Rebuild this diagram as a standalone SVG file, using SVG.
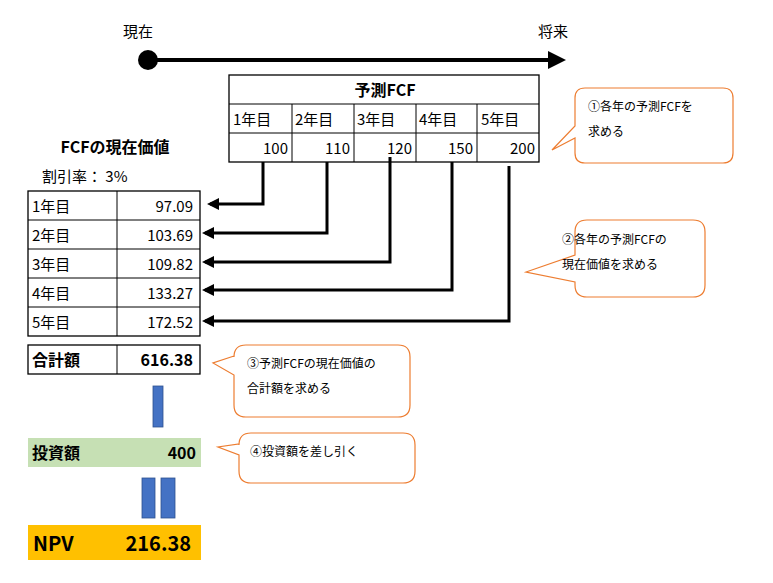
<svg xmlns="http://www.w3.org/2000/svg" width="773" height="583" viewBox="0 0 773 583">
<style>
text{font-family:"Noto Sans CJK JP","Liberation Sans",sans-serif;fill:#000}
.c{fill:#fff;stroke:#000;stroke-width:1.3}
.t{font-size:15px}
.b{font-size:16px;font-weight:bold}
.s{font-size:12px}
.co{fill:#fff;stroke:#ed7d31;stroke-width:1.2}
.ar{fill:none;stroke:#000;stroke-width:3;marker-end:url(#ah)}
</style>
<defs><marker id="ah" markerWidth="4" markerHeight="4" refX="3" refY="2" orient="auto"><path d="M0,0L4,2L0,4z" fill="#000"/></marker></defs>
<g id="timeline">
<text x="138" y="37" class="t" text-anchor="middle">現在</text>
<text x="553" y="37" class="t" text-anchor="middle">将来</text>
<line x1="148" y1="60" x2="552" y2="60" stroke="#000" stroke-width="4"/>
<path d="M548,51L566,60L548,69z"/>
<circle cx="148" cy="60" r="10"/>
</g>
<g id="fcf-table">
<rect class="c" x="229" y="75" width="310" height="87"/>
<line x1="229" y1="104" x2="539" y2="104" stroke="#000"/>
<line x1="229" y1="133" x2="539" y2="133" stroke="#000"/>
<g stroke="#000"><line x1="292" y1="104" x2="292" y2="162"/><line x1="354" y1="104" x2="354" y2="162"/><line x1="416" y1="104" x2="416" y2="162"/><line x1="477" y1="104" x2="477" y2="162"/></g>
<text x="385" y="96" class="b" text-anchor="middle">予測FCF</text>
<g class="t" fill="#000"><text x="233" y="125">1年目</text><text x="295" y="125">2年目</text><text x="357" y="125">3年目</text><text x="419" y="125">4年目</text><text x="481" y="125">5年目</text></g>
<g class="t" text-anchor="end"><text x="288" y="154">100</text><text x="350" y="154">110</text><text x="412" y="154">120</text><text x="473" y="154">150</text><text x="535" y="154">200</text></g>
</g>
<g id="pv-table">
<text x="115" y="153" class="b" text-anchor="middle">FCFの現在価値</text>
<text x="42" y="182" class="t" fill="#333">割引率： 3%</text>
<rect class="c" x="28" y="191" width="172" height="145"/>
<g stroke="#000"><line x1="28" y1="220" x2="200" y2="220"/><line x1="28" y1="249" x2="200" y2="249"/><line x1="28" y1="278" x2="200" y2="278"/><line x1="28" y1="307" x2="200" y2="307"/><line x1="117" y1="191" x2="117" y2="336"/></g>
<g class="t"><text x="32" y="212">1年目</text><text x="32" y="241">2年目</text><text x="32" y="270">3年目</text><text x="32" y="299">4年目</text><text x="32" y="328">5年目</text></g>
<g class="t" text-anchor="end"><text x="193" y="212">97.09</text><text x="193" y="241">103.69</text><text x="193" y="270">109.82</text><text x="193" y="299">133.27</text><text x="193" y="328">172.52</text></g>
</g>
<g id="total">
<rect class="c" x="28" y="345" width="172" height="29"/>
<line x1="117" y1="345" x2="117" y2="374" stroke="#000"/>
<text x="32" y="366" class="b">合計額</text>
<text x="193" y="366" class="b" text-anchor="end">616.38</text>
</g>
<rect id="minus" x="153" y="386" width="10" height="41" fill="#4472c4" stroke="#2f528f" stroke-width="0.8"/>
<g id="invest">
<rect x="28" y="438" width="173" height="29" fill="#c6e0b4"/>
<text x="32" y="459" class="b">投資額</text>
<text x="196" y="459" class="b" text-anchor="end">400</text>
</g>
<g id="equals" fill="#4472c4" stroke="#2f528f" stroke-width="0.8">
<rect x="142" y="478" width="13" height="40"/><rect x="161" y="478" width="14" height="40"/>
</g>
<g id="npv">
<rect x="28" y="525" width="173" height="35" fill="#ffc000"/>
<text x="33" y="551" style="font-size:20px;font-weight:bold">NPV</text>
<text x="191" y="551" style="font-size:20px;font-weight:bold" text-anchor="end">216.38</text>
</g>
<g id="connectors">
<polyline class="ar" points="263,162 263,204 210,204"/>
<polyline class="ar" points="327,162 327,233 205,233"/>
<polyline class="ar" points="390,157 390,262 205,262"/>
<polyline class="ar" points="452,162 452,290 205,290"/>
<polyline class="ar" points="509,166 509,321 205,321"/>
</g>
<g id="callout1">
<path class="co" d="M585,88H723Q733,88 733,98V153Q733,163 723,163H585Q575,163 575,153V138L552,150L575,126V98Q575,88 585,88z"/>
<text x="588" y="111" class="s">①各年の予測FCFを</text>
<text x="588" y="136" class="s">求める</text>
</g>
<g id="callout2">
<path class="co" d="M587,220H693Q705,220 705,232V285Q705,297 693,297H587Q575,297 575,285V282L526,272L575,255V232Q575,220 587,220z"/>
<text x="562" y="244" class="s">②各年の予測FCFの</text>
<text x="562" y="269" class="s">現在価値を求める</text>
</g>
<g id="callout3">
<path class="co" d="M246,345H398Q410,345 410,357V405Q410,417 398,417H246Q234,417 234,405V375L213,363L234,356V357Q234,345 246,345z"/>
<text x="247" y="368" class="s">③予測FCFの現在価値の</text>
<text x="247" y="393" class="s">合計額を求める</text>
</g>
<g id="callout4">
<path class="co" d="M251,433H403Q415,433 415,445V471Q415,483 403,483H251Q239,483 239,471V455L218,447L239,444V445Q239,433 251,433z"/>
<text x="250" y="456" class="s">④投資額を差し引く</text>
</g>
</svg>
